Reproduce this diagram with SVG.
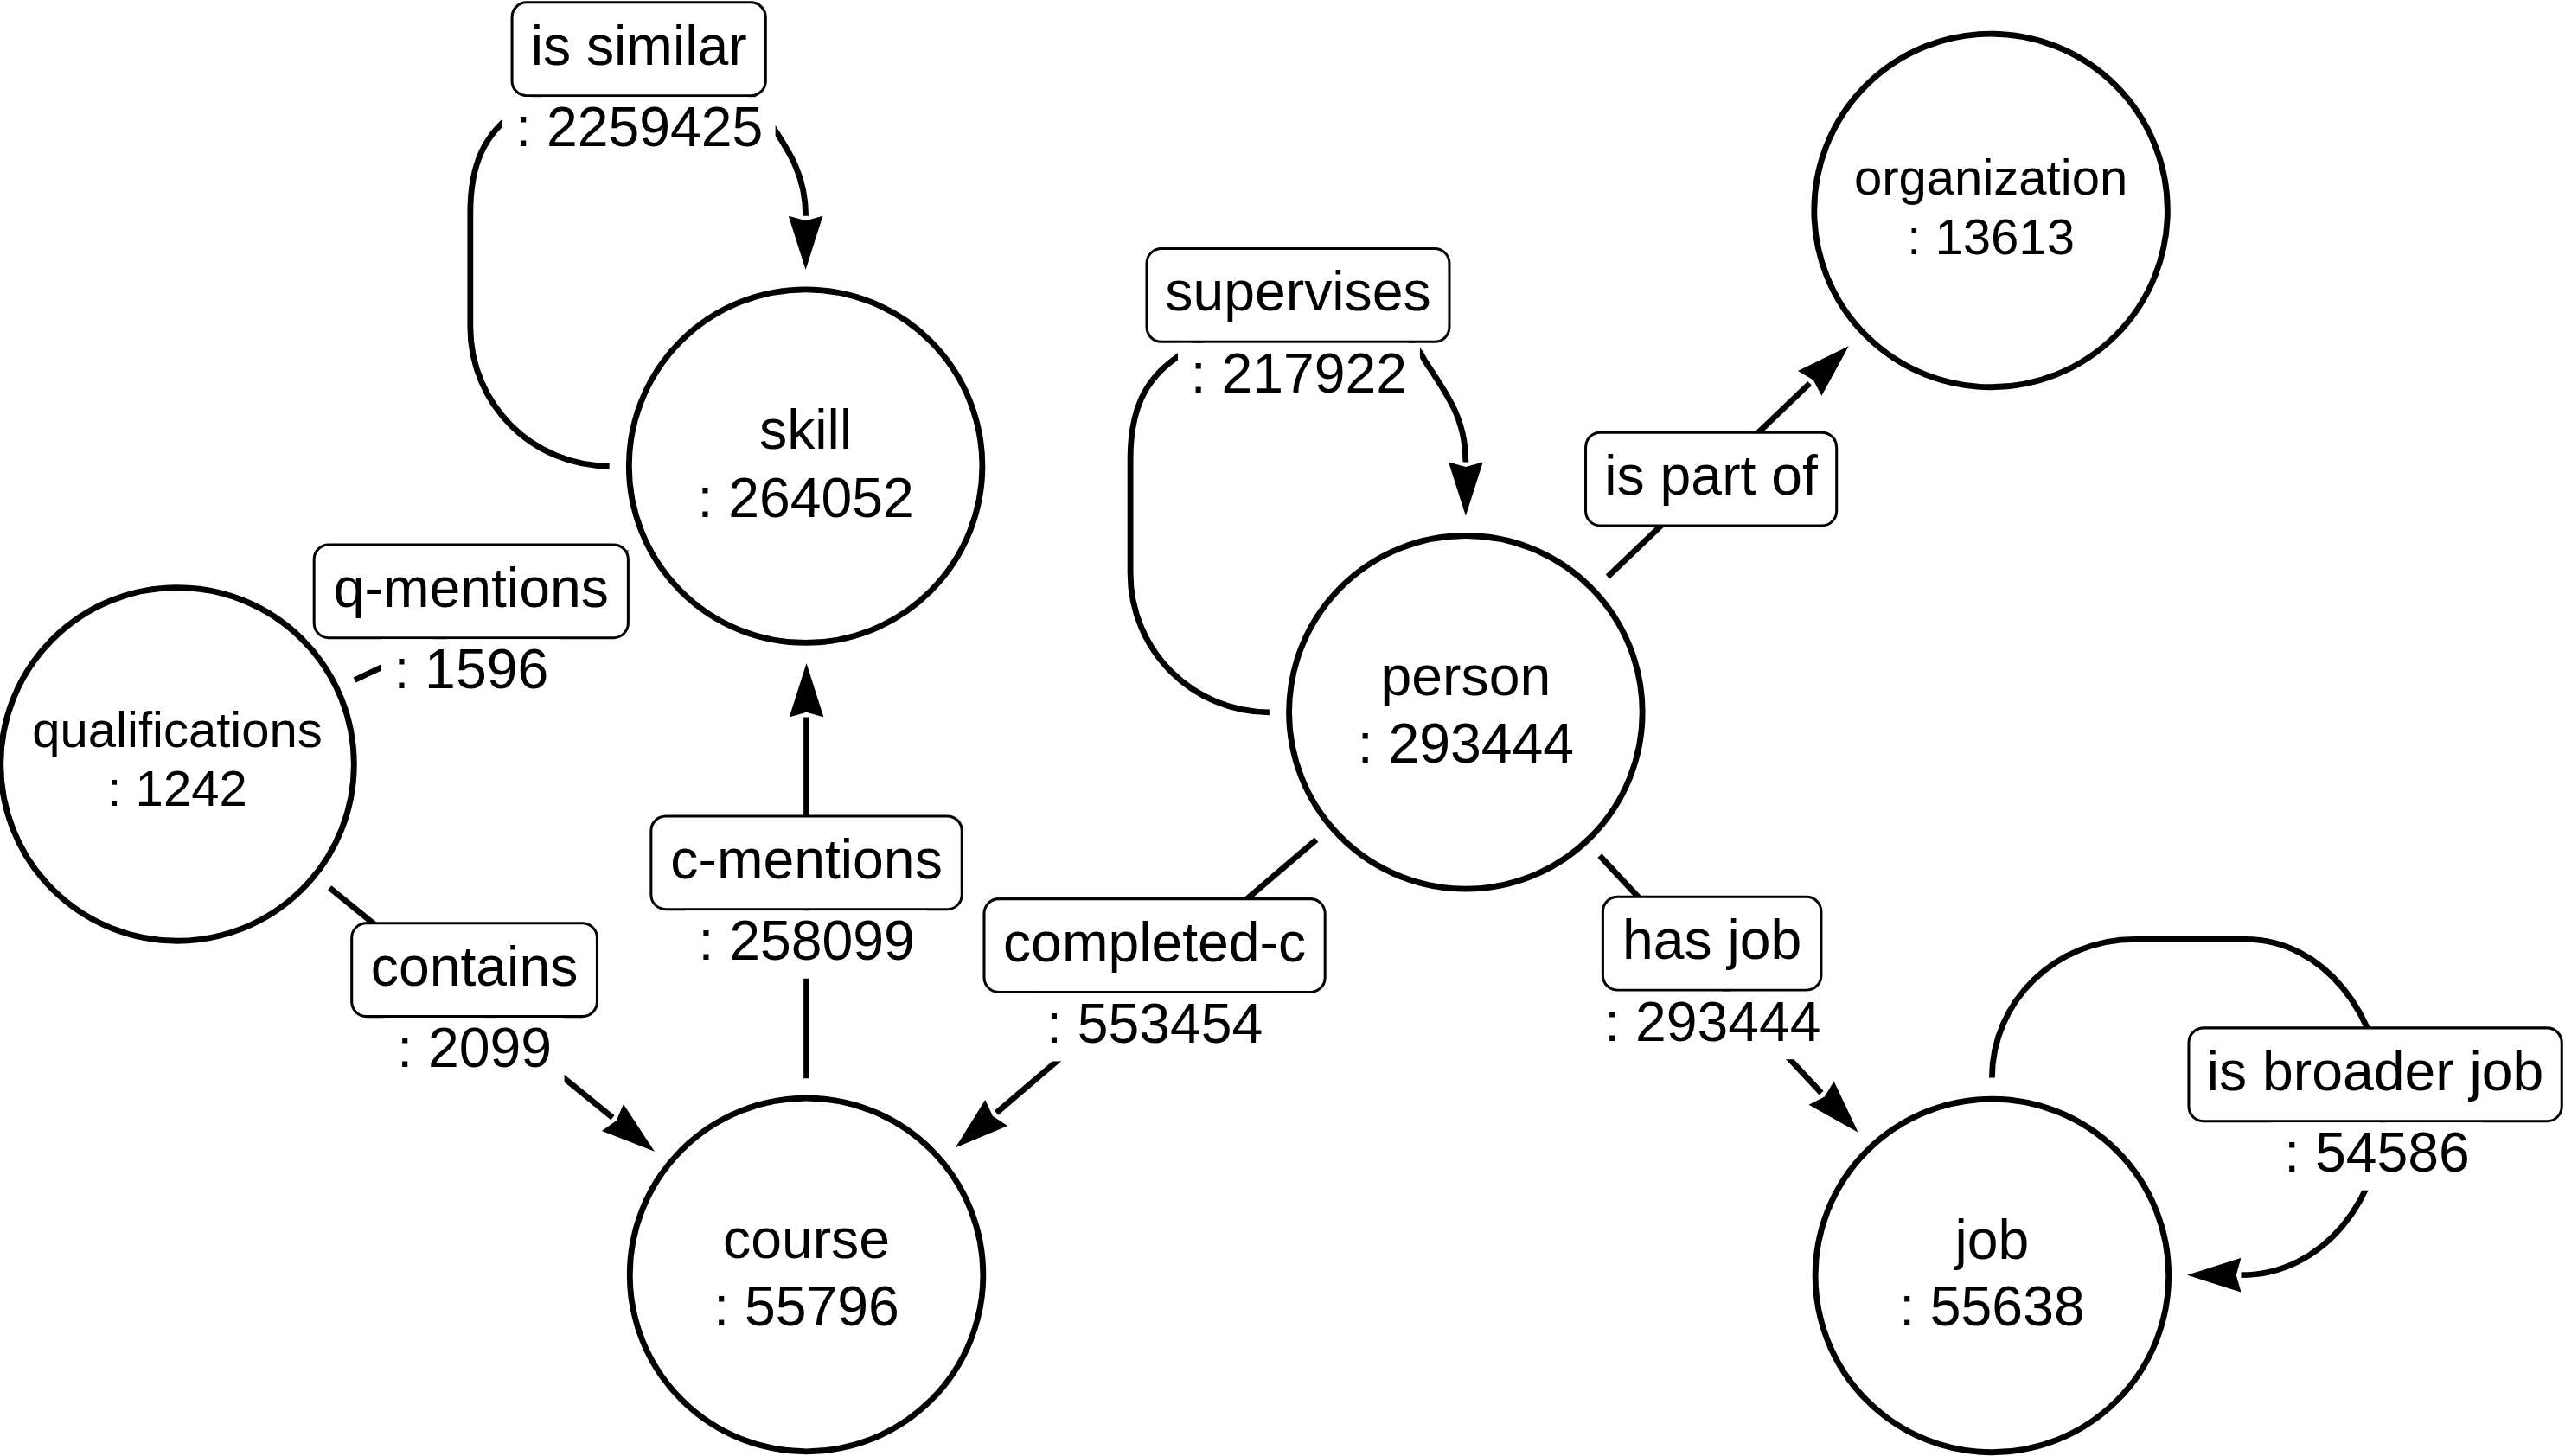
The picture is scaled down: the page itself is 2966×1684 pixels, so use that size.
<svg xmlns="http://www.w3.org/2000/svg" width="2966" height="1684" viewBox="0 0 2966 1684">
<defs>
<style>
.node circle { fill:#ffffff; stroke:#000000; stroke-width:3.6; }
.t { font-family:"Liberation Sans", Arial, sans-serif; font-size:34px; text-anchor:middle; fill:#000000; }
.ts { font-size:30.7px; }
.edge { fill:none; stroke:#000000; stroke-width:3.6; }
.box { fill:#ffffff; stroke:#000000; stroke-width:1.6; }
.bg { fill:#ffffff; stroke:none; }
</style>
<marker id="arr" markerUnits="userSpaceOnUse" markerWidth="34" markerHeight="22" viewBox="0 0 34 22" refX="0" refY="11" orient="auto">
<path d="M0,0.5 L33,11 L0,21.5 L3,11 Z" fill="#000000"/>
</marker>
</defs>
<rect x="0" y="0" width="2966" height="1684" fill="#ffffff"/>
<g transform="scale(1.8916)">
<g id="connectors">
<g id="e-is-similar">
<path class="edge" marker-end="url(#arr)" d="M372.5,285 C325.5,285 287.5,247 287.5,200 L287.5,130 C287.5,100 296.5,82 314.5,69 C332.5,55 362.5,38 390.5,38 C432.5,38 457.5,50 467.5,70 C480.5,90 492.5,105 492.5,132"/>
<rect class="box" x="313" y="1.5" width="155" height="57" rx="9"/>
<text class="t" x="390.5" y="39.5">is similar</text>
<rect class="bg" x="307" y="59.3" width="167" height="41.5"/>
<text class="t" x="390.8" y="89.5">: 2259425</text>
</g>
<g id="e-supervises">
<path class="edge" marker-end="url(#arr)" d="M776,435.5 C729,435.5 691,397.5 691,350.5 L691,280.5 C691,250.5 700,232.5 718,219.5 C736,205.5 766,188.5 794,188.5 C836,188.5 861,200.5 871,220.5 C884,240.5 896,255.5 896,282.5"/>
<rect class="box" x="701" y="152" width="185" height="57" rx="9"/>
<text class="t" x="793.5" y="190">supervises</text>
<rect class="bg" x="720" y="209.8" width="148" height="41.5"/>
<text class="t" x="794" y="240">: 217922</text>
</g>
<g id="e-q-mentions">
<path class="edge" marker-end="url(#arr)" d="M216.8,415.8 L354.8,350.5"/>
<rect class="box" x="192" y="333" width="192" height="57" rx="9"/>
<text class="t" x="288" y="371">q-mentions</text>
<rect class="bg" x="233" y="390.8" width="110" height="41.5"/>
<text class="t" x="288" y="421">: 1596</text>
</g>
<g id="e-contains">
<path class="edge" marker-end="url(#arr)" d="M201.5,542.9 L374.5,683.3"/>
<rect class="box" x="215" y="564.5" width="150" height="57" rx="9"/>
<text class="t" x="290" y="602.5">contains</text>
<rect class="bg" x="235" y="622.3" width="110" height="41.5"/>
<text class="t" x="290" y="652.5">: 2099</text>
</g>
<g id="e-c-mentions">
<path class="edge" marker-end="url(#arr)" d="M493,659.3 L493,438.5"/>
<rect class="box" x="398" y="499" width="190" height="57" rx="9"/>
<text class="t" x="493" y="537">c-mentions</text>
<rect class="bg" x="419" y="556.8" width="148" height="41.5"/>
<text class="t" x="493" y="587">: 258099</text>
</g>
<g id="e-completed-c">
<path class="edge" marker-end="url(#arr)" d="M804.7,513.4 L609.1,680.4"/>
<rect class="box" x="601.6" y="549.6" width="208.4" height="57" rx="9"/>
<text class="t" x="705.8" y="587.6">completed-c</text>
<rect class="bg" x="631.8" y="607.4" width="148" height="41.5"/>
<text class="t" x="705.8" y="637.6">: 553454</text>
</g>
<g id="e-has-job">
<path class="edge" marker-end="url(#arr)" d="M977.9,523.2 L1113.4,668.3"/>
<rect class="box" x="979.8" y="548.4" width="133.5" height="57" rx="9"/>
<text class="t" x="1046.5" y="586.4">has job</text>
<rect class="bg" x="972.9" y="606.2" width="148" height="41.5"/>
<text class="t" x="1046.9" y="636.4">: 293444</text>
</g>
<g id="e-is-part-of">
<path class="edge" marker-end="url(#arr)" d="M982.8,352.6 L1106.3,234.4"/>
<rect class="box" x="969.3" y="264.4" width="153.4" height="57" rx="9"/>
<text class="t" x="1046" y="302.4">is part of</text>
</g>
<g id="e-is-broader-job">
<path class="edge" marker-end="url(#arr)" d="M1217.7,659 C1217.7,612 1257,574.3 1305,574.3 L1373,574.3 C1419.4,574.3 1457,620.3 1457,677 C1457,733.7 1419.4,779.6 1370,779.6"/>
<rect class="box" x="1338" y="628.5" width="228" height="57" rx="9"/>
<text class="t" x="1452" y="666.5">is broader job</text>
<rect class="bg" x="1388.5" y="686.3" width="129" height="41.5"/>
<text class="t" x="1453" y="716.5">: 54586</text>
</g>
</g>
<g id="n-skill" class="node">
<circle cx="492.5" cy="285" r="108"/>
<text class="t" x="492.5" y="274.5">skill</text>
<text class="t" x="492.5" y="316">: 264052</text>
</g>
<g id="n-qualifications" class="node">
<circle cx="108.4" cy="467.3" r="108"/>
<text class="t ts" x="108.4" y="457">qualifications</text>
<text class="t ts" x="108.4" y="492.5">: 1242</text>
</g>
<g id="n-person" class="node">
<circle cx="896" cy="435.5" r="108"/>
<text class="t" x="896" y="425">person</text>
<text class="t" x="896" y="466.5">: 293444</text>
</g>
<g id="n-organization" class="node">
<circle cx="1217" cy="128.7" r="108"/>
<text class="t ts" x="1217" y="119">organization</text>
<text class="t ts" x="1217" y="155.5">: 13613</text>
</g>
<g id="n-course" class="node">
<circle cx="493" cy="779.5" r="108"/>
<text class="t" x="493" y="769">course</text>
<text class="t" x="493" y="810.5">: 55796</text>
</g>
<g id="n-job" class="node">
<circle cx="1217.7" cy="780" r="108"/>
<text class="t" x="1217.7" y="769.5">job</text>
<text class="t" x="1217.7" y="810.5">: 55638</text>
</g>
</g>
</svg>
